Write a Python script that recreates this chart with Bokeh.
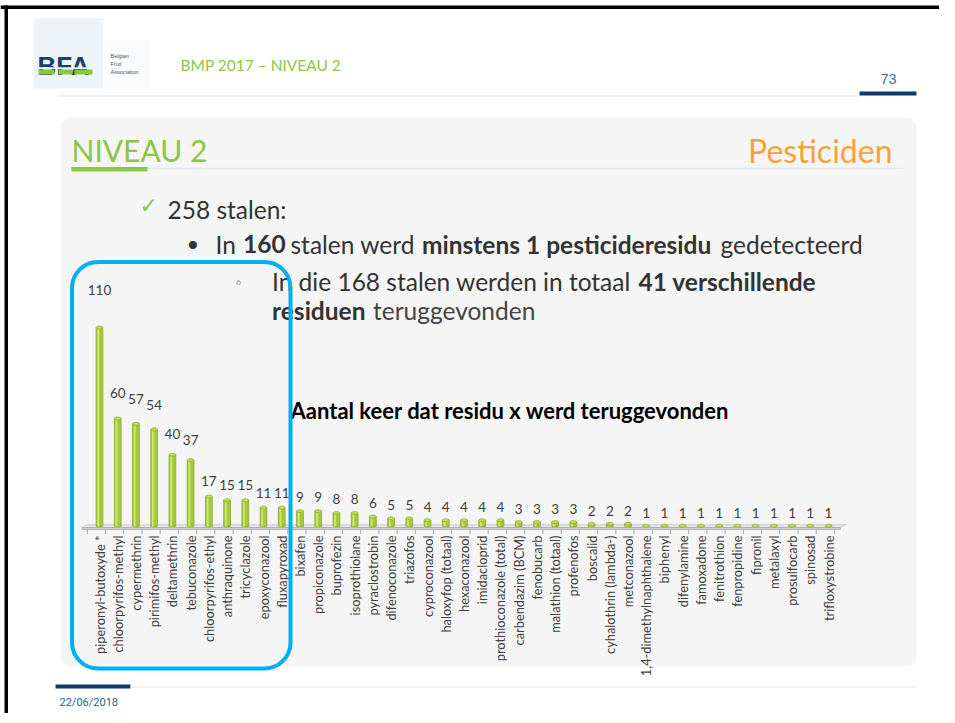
import math
from bokeh.plotting import figure
from bokeh.models import Range1d, ColumnDataSource
from bokeh.core.properties import value
from bokeh.embed import file_html
from bokeh.resources import INLINE

# ---------------- data ----------------
categories = [
    "piperonyl-butoxyde *", "chloorpyrifos-methyl", "cypermethrin", "pirimifos-methyl",
    "deltamethrin", "tebuconazole", "chloorpyrifos-ethyl", "anthraquinone", "tricyclazole",
    "epoxyconazool", "fluxapyroxad", "bixafen", "propiconazole", "buprofezin",
    "isoprothiolane", "pyraclostrobin", "difenoconazole", "triazofos", "cyproconazool",
    "haloxyfop (totaal)", "hexaconazool", "imidacloprid", "prothioconazole (total)",
    "carbendazim (BCM)", "fenobucarb", "malathion (totaal)", "profenofos", "boscalid",
    "cyhalothrin (lambda-)", "metconazool", "1,4-dimethylnaphthalene", "biphenyl",
    "difenylamine", "famoxadone", "fenitrothion", "fenpropidine", "fipronil", "metalaxyl",
    "prosulfocarb", "spinosad", "trifloxystrobine",
]
counts = [110, 60, 57, 54, 40, 37, 17, 15, 15, 11, 11, 9, 9, 8, 8, 6, 5, 5, 4, 4, 4, 4, 4,
          3, 3, 3, 3, 2, 2, 2, 1, 1, 1, 1, 1, 1, 1, 1, 1, 1, 1]
chart_title = "Aantal keer dat residu x werd teruggevonden"

# ---------------- geometry ----------------
W, H = 939, 713
X0, DX = 99.0, 18.225        # page x of first category centre, category spacing
BASE, PPU = 527.0, 1.818     # page y of the floor, pixels per count

def dx(px):
    return (px - X0) / DX

def dy(py):
    return (BASE - py) / PPU

p = figure(width=W, height=H, output_backend="svg", toolbar_location=None,
           x_range=Range1d(dx(0), dx(W)), y_range=Range1d(dy(H), dy(0)),
           x_axis_location=None, y_axis_location=None, min_border=0)
p.grid.visible = False
p.outline_line_color = None
p.background_fill_color = "white"
p.border_fill_color = "white"
p.extra_x_ranges = {"px": Range1d(0, W)}
p.extra_y_ranges = {"py": Range1d(H, 0)}

PX = dict(x_range_name="px", y_range_name="py")

def box(l, r, t, b, fill, line=None, lw=1, radius=0, alpha=1.0):
    p.quad(left=[l], right=[r], top=[t], bottom=[b], fill_color=fill, fill_alpha=alpha,
           line_color=line, line_width=lw, border_radius=radius, **PX)

def txt(x, y, s, size, color, font="Lato", style="normal", align="left",
        baseline="middle", angle=0.0):
    p.text(x=[x], y=[y], text=[s], text_font=value(font), text_font_size=f"{size}px",
           text_color=color, text_font_style=style, text_align=align,
           text_baseline=baseline, angle=angle, **PX)

# ---------------- slide frame ----------------
box(0, W, 8.5, 5, "black")
box(4, 7.5, H, 5, "black")

# logo
box(33, 103, 88, 18, "#eef3f8")
box(103, 150, 88, 40, "#fbfcfd")
txt(37, 65, "BFA", 26, "#17426b", font="Liberation Sans", style="bold")
box(37, 93, 68.5, 66.8, "#eef3f8")
box(38, 54, 74, 69, "#8dc63f")
box(58, 72, 74, 69, "#8dc63f")
box(74, 92, 74, 69, "#8dc63f")
txt(110, 55.5, "Belgian", 5.5, "#555555", font="Liberation Sans")
txt(110, 63.5, "Fruit", 5.5, "#555555", font="Liberation Sans")
txt(110, 71.5, "Association", 5.5, "#555555", font="Liberation Sans")

txt(180, 64.5, "BMP 2017 \u2013 NIVEAU 2", 15.5, "#8dc63f")
p.segment(x0=[57], y0=[95.5], x1=[859], y1=[95.5], line_color="#e3e3e3", line_width=1.2, **PX)
box(859, 916, 95, 91, "#0d3d6b")
txt(888, 78.5, "73", 14.5, "#4a6f96", font="Liberation Sans", align="center")

# footer
box(55, 130, 688, 684, "#0d3d6b")
p.segment(x0=[130], y0=[686.5], x1=[916], y1=[686.5], line_color="#e3e3e3", line_width=1.2, **PX)
txt(59, 702, "22/06/2018", 11, "#2f5f8f", font="Roboto")

# content panel
box(60, 916, 117, 666, "#f5f5f5", radius=10)

# title bar
txt(71, 149.5, "NIVEAU 2", 30, "#8dc63f")
p.segment(x0=[147], y0=[168], x1=[903], y1=[168], line_color="#dde6ee", line_width=1.5, **PX)
box(71, 147, 171, 166.5, "#8dc63f")
txt(892, 149.5, "Pesticiden", 32, "#f9a13a", align="right")

# body text
DARK = "#333333"
FS = 24.5
txt(139, 205, "\u2713", 22, "#8dc63f", font="DejaVu Sans")
txt(167, 208.5, "258 stalen:", FS, DARK)
txt(186, 243, "\u2022", 22, DARK)
txt(215, 243.5, "In ", FS, DARK)
txt(242.5, 243.5, "160", FS, DARK, style="bold")
txt(290, 243.5, "stalen werd", FS, DARK)
txt(421.5, 243.5, "minstens 1 pesticideresidu", FS, DARK, style="bold")
txt(720, 243.5, "gedetecteerd", FS, DARK)
txt(234, 282, "\u25e6", 14, DARK, font="DejaVu Sans")
txt(271.5, 281, "In die 168 stalen werden in totaal", FS, DARK)
txt(638, 281, "41 verschillende", FS, DARK, style="bold")
txt(271.5, 309.5, "residuen", FS, DARK, style="bold")
txt(372.5, 309.5, "teruggevonden", FS, "#444444")

# ---------------- chart ----------------
idx = list(range(len(categories)))
src = ColumnDataSource(dict(
    x=idx, cat=categories, n=counts,
    hx=[i - 0.07 for i in idx],
    ly=[1.127 * c + 6.6 for c in counts],
    lab=[str(c) for c in counts],
))

# floor (3-D plate)
fl, fr = -0.5 - 0.45, len(categories) - 0.5 + 0.15
skew = 0.3
p.patch(x=[fl, fl + skew, fr + skew, fr], y=[0, 1.5, 1.5, 0],
        fill_color="#e6e6e6", line_color="#c4c4c4", line_width=0.8)
p.patch(x=[fl, fr, fr, fl], y=[0, 0, -1.1, -1.1],
        fill_color="#d0d0d0", line_color="#a9a9a9", line_width=0.8)
tick_x = [i - 0.5 - 0.17 for i in range(len(categories) + 1)]
p.segment(x0=tick_x, y0=[-1.1] * len(tick_x), x1=tick_x, y1=[-3.6] * len(tick_x),
          line_color="#a9a9a9", line_width=1)

# bars (cylinders)
p.vbar(x="x", top="n", bottom=0.6, width=0.37, source=src,
       fill_color="#a6c83a", line_color="#88a823", line_width=0.8)
p.vbar(x="hx", top="n", bottom=0.6, width=0.1, source=src,
       fill_color="#cfe673", line_color=None)
p.ellipse(x="x", y="n", width=0.37, height=1.7, source=src,
          fill_color="#c2dc55", line_color="#88a823", line_width=0.6)

# value labels
p.text(x="x", y="ly", text="lab", source=src, text_font=value("Lato"),
       text_font_size="13.5px", text_color="#404040", text_align="center",
       text_baseline="middle")

# category labels
p.text(x="x", y=dy(535), text="cat", source=src, angle=math.pi / 2,
       text_font=value("Lato"), text_font_size="12.8px", text_color="#404040",
       text_align="right", text_baseline="middle")

# chart title
txt(290, 409.5, chart_title, 22, "black", style="bold")

# highlight outline
p.quad(left=[71.5], right=[290], top=[261.5], bottom=[668], fill_color=None,
       line_color="#00b0f0", line_width=4, border_radius=26, **PX)

open("out.html", "w").write(file_html(p, INLINE))
